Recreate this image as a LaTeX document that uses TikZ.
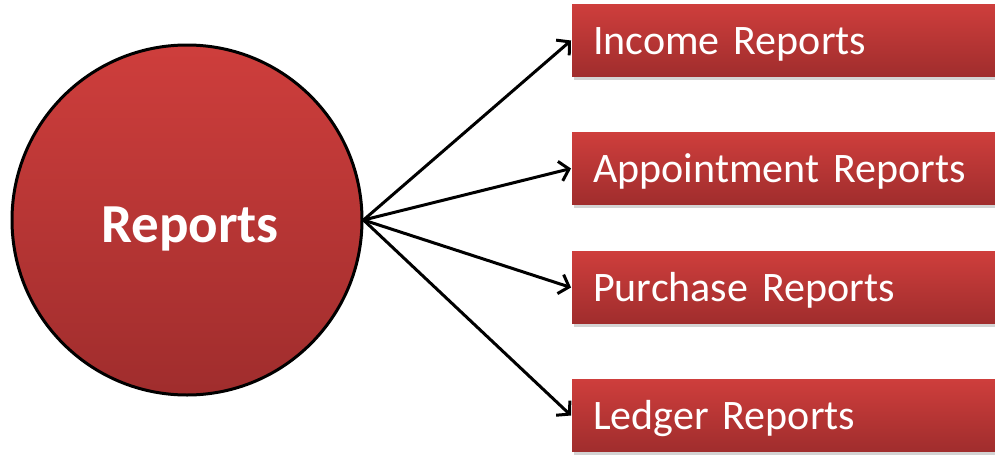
\documentclass[tikz,border=0pt]{standalone}
\usepackage{fontspec}
\setmainfont{Carlito}
\usetikzlibrary{arrows.meta,shadows}
\definecolor{redtop}{RGB}{206,62,60}
\definecolor{redbot}{RGB}{160,45,45}
\begin{document}
\begin{tikzpicture}[x=1pt,y=-1pt,
  hub/.style={circle, minimum size=350pt, inner sep=0pt, draw=black, line width=3pt,
    top color=redtop, bottom color=redbot},
  hubtext/.style={text=white, font=\fontsize{55}{60}\selectfont\bfseries,
    text height=35pt, text depth=0pt, inner sep=0pt},
  repbox/.style={anchor=west, draw=none, top color=redtop, bottom color=redbot,
    minimum height=72pt, text width=420pt, inner xsep=21pt, inner ysep=0pt, align=left,
    text=white, font=\fontsize{42}{48}\selectfont, text height=27pt, text depth=0pt,
    drop shadow={shadow xshift=1.5pt, shadow yshift=-3pt, opacity=0.35}},
  arr/.style={draw=black, line width=3pt, -{Straight Barb[length=9pt, width=20pt, line width=3pt]}}
]
\useasboundingbox (0,0) rectangle (995,455);
\clip (0,0) rectangle (995,455);
\node[hub] (c) at (187,220) {};
\node[hubtext] (ct) at (190,225) {Reports};
\node[repbox] (b1) at (572,40.5) {Income Reports};
\node[repbox] (b2) at (572,168.5) {Appointment Reports};
\node[repbox] (b3) at (572,287.5) {Purchase Reports};
\node[repbox] (b4) at (572,415.5) {Ledger Reports};
\draw[arr] (c.east) -- ([xshift=-1pt]b1.west);
\draw[arr] (c.east) -- ([xshift=-1pt]b2.west);
\draw[arr] (c.east) -- ([xshift=-1pt]b3.west);
\draw[arr] (c.east) -- ([xshift=-1pt]b4.west);
\end{tikzpicture}
\end{document}
